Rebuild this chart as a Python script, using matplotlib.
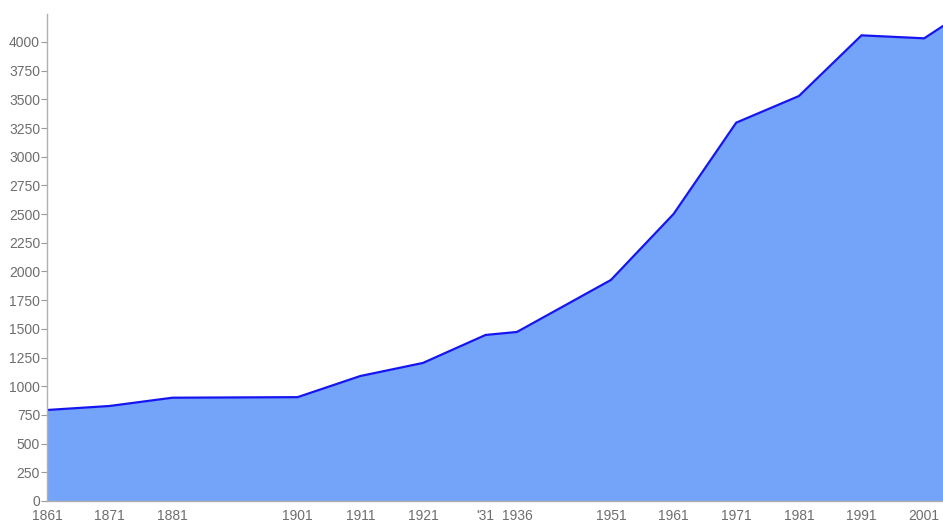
import matplotlib
matplotlib.use("Agg")
import matplotlib.pyplot as plt

years = [1861, 1871, 1881, 1901, 1911, 1921, 1931, 1936, 1951, 1961, 1971, 1981, 1991, 2001, 2011]
population = [793, 828, 900, 905, 1089, 1203, 1447, 1473, 1926, 2501, 3297, 3529, 4058, 4032, 4390]
tick_years = [1861, 1871, 1881, 1901, 1911, 1921, 1931, 1936, 1951, 1961, 1971, 1981, 1991, 2001]
tick_labels = ["1861", "1871", "1881", "1901", "1911", "1921", "'31", "1936", "1951", "1961", "1971", "1981", "1991", "2001"]
y_ticks = list(range(0, 4001, 250))

plt.rcParams['font.family'] = ['Liberation Sans', 'DejaVu Sans']

fig = plt.figure(figsize=(9.43, 5.22), dpi=100)
ax = fig.add_axes([47/943, 21/522, 896/943, 487/522])

ax.fill_between(years, population, 0, color='#74a3fa', linewidth=0)
ax.plot(years, population, color='#1515f0', linewidth=1.6, solid_joinstyle='miter')

ax.set_xlim(1861, 2004)
ax.set_ylim(0, 4244)

ax.set_yticks(y_ticks)
ax.set_yticklabels([str(v) for v in y_ticks])
ax.set_xticks(tick_years)
ax.set_xticklabels(tick_labels)

for s in ['top', 'right']:
    ax.spines[s].set_visible(False)
for s in ['left', 'bottom']:
    ax.spines[s].set_color('#b0b0b0')
    ax.spines[s].set_linewidth(1.0)

ax.tick_params(axis='y', length=4, width=0.8, color='#999999', labelcolor='#6e6e6e', labelsize=10, pad=1)
ax.tick_params(axis='x', length=0, labelcolor='#6e6e6e', labelsize=10, pad=6)

fig.savefig('out.png', dpi=100)
